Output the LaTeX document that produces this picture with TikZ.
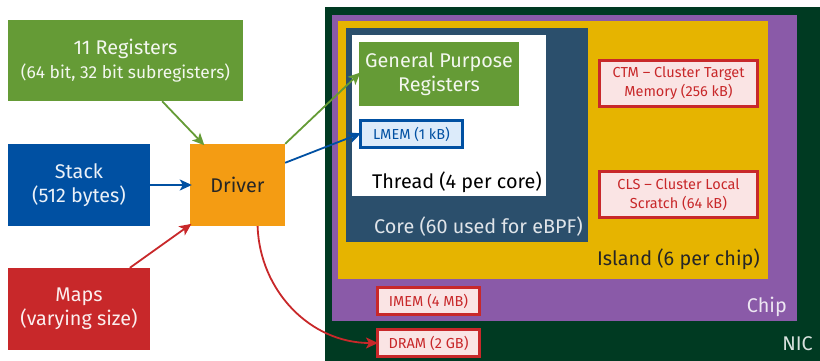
\documentclass[tikz,border=0pt]{standalone}
\usepackage{fontspec}
\setmainfont{Fira Sans}
\usetikzlibrary{arrows.meta, positioning}

\definecolor{regGreen}{HTML}{659B36}
\definecolor{stackBlue}{HTML}{0050A2}
\definecolor{driverOrange}{HTML}{F49C13}
\definecolor{mapsRed}{HTML}{C8282A}
\definecolor{nicGreen}{HTML}{003A22}
\definecolor{chipPurple}{HTML}{8A5AA8}
\definecolor{islandYellow}{HTML}{E6B400}
\definecolor{coreBlue}{HTML}{2B4F6C}
\definecolor{lmemFill}{HTML}{DCEBFA}
\definecolor{memFill}{HTML}{FAE4E4}

\begin{document}
\begin{tikzpicture}[
    x=1pt, y=-1pt, >={Stealth[length=12pt, width=11pt, inset=3pt]},
    big/.style={font=\fontsize{19.8}{24}\selectfont},
    small/.style={font=\fontsize{14.5}{19}\selectfont},
    box/.style={rectangle, inner sep=0pt, align=center, big},
    area/.style={rectangle, inner sep=0pt},
    mem/.style={rectangle, draw=mapsRed, line width=3pt, fill=memFill, text=mapsRed, inner sep=0pt, align=center, small},
    label/.style={anchor=base east, inner sep=0pt, big},
    link/.style={->, line width=1.8pt, shorten >=-2pt}
]
    \useasboundingbox (0,0) rectangle (820,361);

    % eBPF side
    \node[box, fill=regGreen, text=white!92!regGreen, minimum width=235, minimum height=81] (regs) at (125.5,60.5)
        {11 Registers\\{\fontsize{17.4}{24}\selectfont (64 bit, 32 bit subregisters)}};
    \node[box, fill=stackBlue, text=white!92!stackBlue, minimum width=142, minimum height=82] (stack) at (79,185) {Stack\\(512 bytes)};
    \node[box, fill=driverOrange, text=black!85, minimum width=95, minimum height=82] (driver) at (237.5,185) {Driver};
    \node[box, fill=mapsRed, text=white!92!mapsRed, minimum width=142, minimum height=82] (maps) at (79,309) {Maps\\(varying size)};

    % NIC hierarchy
    \node[area, fill=nicGreen, minimum width=495, minimum height=354] (nic) at (572.5,184) {};
    \node[area, fill=chipPurple, minimum width=465, minimum height=306] (chip) at (564.5,168) {};
    \node[area, fill=islandYellow, minimum width=430, minimum height=258] (island) at (553,150) {};
    \node[area, fill=coreBlue, minimum width=242, minimum height=214] (core) at (467,135) {};
    \node[area, fill=white, minimum width=194, minimum height=161] (thread) at (449,115.5) {};

    % Labels of the areas
    \node[label, text=black] (threadlbl) at (542,188) {Thread (4 per core)};
    \node[label, text=white!85!coreBlue] (corelbl) at (583,233) {Core (60 used for eBPF)};
    \node[label, text=black!85] (islandlbl) at (760,265) {Island (6 per chip)};
    \node[label, text=white!85!chipPurple] (chiplbl) at (787,312) {Chip};
    \node[label, text=white!85!nicGreen] (niclbl) at (813,350) {NIC};

    % Memories
    \node[box, fill=regGreen, text=white!92!regGreen, minimum width=160, minimum height=64] (gpr) at (439,74) {General Purpose\\Registers};
    \node[mem, draw=stackBlue, fill=lmemFill, text=stackBlue, minimum width=102, minimum height=27] (lmem) at (411.5,134) {LMEM (1 kB)};
    \node[mem, minimum width=158, minimum height=46] (ctm) at (678.5,83.5) {CTM -- Cluster Target\\Memory (256 kB)};
    \node[mem, minimum width=158, minimum height=46] (cls) at (678.5,194.5) {CLS -- Cluster Local\\Scratch (64 kB)};
    \node[mem, minimum width=102, minimum height=27] (imem) at (428.5,301) {IMEM (4 MB)};
    \node[mem, minimum width=102, minimum height=27] (dram) at (428.5,343) {DRAM (2 GB)};

    % Connections
    \draw[link, draw=regGreen, fill=regGreen] (regs.-48) -- (driver.130);
    \draw[link, draw=stackBlue, fill=stackBlue] (stack) -- (driver);
    \draw[link, draw=mapsRed, fill=mapsRed] (maps.39) -- (driver.220);

    \draw[link, draw=regGreen, fill=regGreen] (driver.north east) -- (gpr.west);
    \draw[link, draw=stackBlue, fill=stackBlue] (driver.25) -- (lmem.west);
    \draw[link, draw=mapsRed] (driver.-64) to[out=-88, in=180] (dram.west);
\end{tikzpicture}
\end{document}
